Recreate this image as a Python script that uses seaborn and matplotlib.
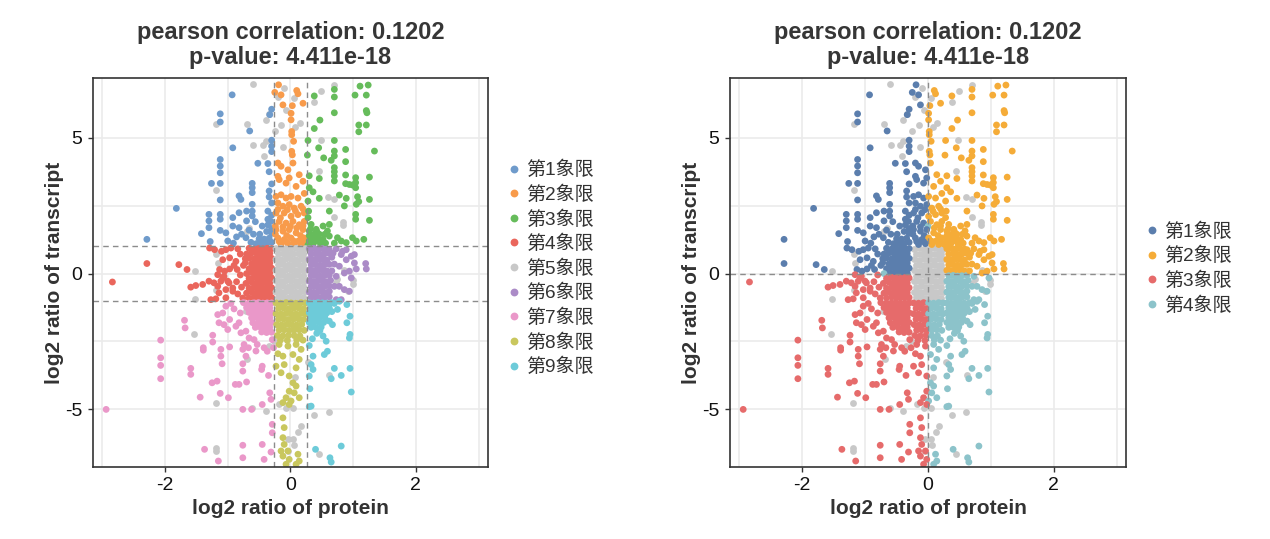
import numpy as np
import pandas as pd
import matplotlib
matplotlib.use("Agg")
import matplotlib.pyplot as plt
import seaborn as sns

# ---------------------------------------
# Data (log2 ratios)
# ---------------------------------------

upper_left = [
    (-0.93, 6.58), (-1.12, 5.88), (-1.12, 5.58), (-0.65, 5.25), (-0.33, 5.85), (-0.30, 6.05),
    (-0.92, 4.63), (-0.30, 4.91), (-0.30, 4.69), (-0.30, 4.49), (-0.52, 4.06), (-0.34, 3.75),
    (-0.36, 4.05), (-1.12, 4.20), (-1.12, 3.96), (-1.12, 3.71), (-1.26, 3.32), (-1.12, 3.32),
    (-0.61, 3.32), (-0.61, 3.16), (-0.61, 2.98), (-0.34, 3.04), (-0.34, 2.82), (-0.30, 3.30),
    (-0.82, 2.86), (-0.79, 2.73), (-1.12, 2.71), (-1.82, 2.40), (-1.30, 2.18), (-1.30, 1.94),
    (-1.30, 1.69), (-1.12, 2.18), (-1.12, 2.00), (-1.12, 1.59), (-0.92, 2.06), (-0.92, 1.75),
    (-0.82, 2.24), (-0.70, 2.30), (-0.70, 1.94), (-0.61, 2.55), (-0.61, 2.30), (-0.61, 2.12),
    (-0.56, 1.91), (-0.36, 2.30), (-0.36, 2.00), (-0.36, 1.79), (-0.30, 2.60), (-0.30, 2.15),
    (-1.42, 1.47), (-1.28, 1.18), (-2.29, 1.26), (-1.00, 1.20), (-0.91, 1.12), (-1.03, 1.50),
    (-0.82, 1.69), (-0.78, 1.45), (-0.71, 1.32), (-0.59, 1.45), (-0.49, 1.45), (-0.42, 1.27),
    (-0.49, 1.12), (-0.55, 1.10), (-0.44, 1.10), (-0.34, 1.30), (-0.30, 1.48), (-0.30, 1.66),
    (-0.30, 1.15), (-0.38, 1.55), (-0.50, 1.28), (-0.63, 1.15), (-0.38, 1.10), (-0.31, 1.92),
    (-0.45, 1.75), (-0.66, 1.60), (-0.86, 1.35),
]

top_middle = [
    (-0.19, 6.95), (-0.25, 6.67), (-0.15, 6.58), (0.10, 6.74), (0.12, 6.62), (-0.12, 6.21),
    (0.03, 6.18), (0.20, 6.27), (0.01, 5.90), (0.01, 5.66), (0.02, 5.23), (0.02, 5.11),
    (0.05, 4.87), (0.02, 4.50), (0.03, 4.37), (-0.20, 4.07), (-0.15, 3.95), (-0.04, 3.82),
    (0.04, 4.07), (0.14, 3.64), (-0.20, 3.58), (-0.18, 3.46), (-0.07, 3.33), (-0.02, 3.52),
    (0.09, 3.21), (0.20, 3.40), (-0.23, 2.84), (-0.15, 2.90), (-0.07, 2.78), (0.01, 2.84),
    (0.12, 2.78), (0.22, 2.95), (-0.20, 2.60), (-0.12, 2.48), (-0.02, 2.54), (0.06, 2.41),
    (0.17, 2.48), (-0.20, 2.36), (-0.05, 2.35), (0.08, 2.30), (0.20, 2.38), (-0.23, 2.23),
    (-0.10, 2.23), (0.01, 2.11), (0.12, 2.17), (0.22, 2.23), (-0.16, 2.05), (-0.18, 1.92),
    (-0.07, 1.86), (0.04, 1.92), (0.14, 1.80), (0.22, 1.92), (-0.24, 1.75), (-0.12, 1.72),
    (0.00, 1.74), (0.10, 1.68), (0.20, 1.76), (-0.23, 1.62), (-0.12, 1.56), (-0.02, 1.62),
    (0.09, 1.50), (0.20, 1.62), (-0.06, 1.40), (0.16, 1.40), (-0.24, 1.45), (-0.20, 1.31),
    (-0.10, 1.25), (0.01, 1.31), (0.12, 1.19), (0.22, 1.31), (-0.18, 1.18), (-0.07, 1.18),
    (0.05, 1.20), (0.17, 1.22), (-0.15, 1.07), (-0.04, 1.10), (0.06, 1.07), (0.17, 1.07),
    (0.24, 1.10),
]

upper_right = [
    (1.11, 6.90), (1.24, 6.94), (1.03, 6.57), (1.21, 6.57), (0.70, 6.78), (0.70, 6.50),
    (0.38, 6.54), (1.21, 6.00), (1.22, 5.92), (0.70, 5.92), (0.47, 5.65), (1.09, 5.47),
    (1.21, 5.47), (1.09, 5.22), (0.38, 5.34), (0.70, 4.90), (0.45, 4.63), (0.88, 4.57),
    (1.34, 4.51), (0.70, 4.51), (0.70, 4.33), (0.53, 4.26), (0.65, 4.17), (0.88, 4.12),
    (0.27, 4.36), (0.70, 3.90), (0.70, 3.75), (0.70, 3.59), (0.70, 3.41), (0.88, 3.63),
    (1.04, 3.53), (1.04, 3.35), (1.04, 3.16), (0.88, 3.31), (0.94, 3.28), (0.99, 3.26),
    (1.26, 3.55), (0.46, 3.50), (0.30, 3.16), (0.36, 3.01), (0.46, 2.77), (0.78, 2.89),
    (0.89, 2.77), (0.86, 2.49), (1.07, 2.83), (1.05, 2.55), (1.09, 2.65), (1.26, 2.73),
    (0.62, 2.30), (1.04, 2.18), (1.04, 2.00), (1.26, 1.96), (0.28, 2.67), (0.29, 2.30),
    (0.28, 2.06), (0.33, 1.81), (0.41, 1.63), (0.52, 1.75), (0.62, 1.81), (0.59, 1.57),
    (0.46, 1.45), (0.36, 1.32), (0.30, 1.20), (0.41, 1.20), (0.52, 1.26), (0.62, 1.38),
    (0.75, 1.32), (0.81, 1.20), (0.99, 1.32), (1.05, 1.20), (1.17, 1.26), (0.89, 1.14),
    (0.30, 1.57), (0.38, 1.45), (0.28, 4.90), (0.30, 3.60), (0.36, 1.08), (0.48, 1.08),
    (0.56, 1.12), (0.70, 1.12), (0.30, 1.40), (0.45, 1.30), (0.55, 1.45), (0.32, 1.65),
    (0.28, 1.05), (0.42, 1.55),
]

middle_left = [
    (-2.84, -0.31), (-2.29, 0.37), (-1.78, 0.33), (-1.65, 0.15), (-1.59, -0.50), (-1.51, -0.44),
    (-1.40, -0.40), (-1.30, -0.28), (-1.22, -0.34), (-1.16, -0.47), (-1.11, -0.28), (-1.06, -0.10),
    (-0.98, -0.34), (-0.92, -0.53), (-1.14, -0.71), (-1.27, -0.96), (-1.19, -0.93), (-1.29, 0.94),
    (-1.21, 0.88), (-1.10, 0.82), (-1.03, 0.88), (-0.95, 0.94), (-0.84, 0.91), (-1.13, 0.15),
    (-1.05, 0.09), (-0.97, 0.17), (-1.16, -0.04), (-1.08, -0.16), (-1.00, -0.28), (-1.03, -0.59),
    (-0.92, -0.65), (-1.03, -0.89), (-1.08, 0.51), (-0.97, 0.58), (-0.87, 0.45), (-0.85, 0.15),
    (-0.80, -0.05), (-0.86, -0.30), (-0.78, -0.50), (-0.84, -0.75), (-0.76, -0.90), (-0.80, 0.72),
    (-0.72, 0.55), (-0.75, 0.30), (-0.90, 0.30),
    (-0.30, 0.92), (-0.37, 0.93), (-0.44, 0.91), (-0.51, 0.92), (-0.58, 0.90), (-0.66, 0.93),
    (-0.33, 0.74), (-0.40, 0.75), (-0.47, 0.73), (-0.54, 0.74), (-0.62, 0.76), (-0.70, 0.72),
    (-0.30, 0.56), (-0.37, 0.55), (-0.44, 0.57), (-0.51, 0.56), (-0.58, 0.54), (-0.66, 0.57),
    (-0.33, 0.38), (-0.40, 0.37), (-0.47, 0.39), (-0.54, 0.38), (-0.62, 0.36), (-0.72, 0.40),
    (-0.30, 0.20), (-0.37, 0.21), (-0.44, 0.19), (-0.51, 0.20), (-0.58, 0.22), (-0.66, 0.18),
    (-0.33, 0.02), (-0.40, 0.03), (-0.47, 0.01), (-0.54, 0.02), (-0.62, 0.04), (-0.70, 0.00),
    (-0.30, -0.16), (-0.37, -0.15), (-0.44, -0.17), (-0.51, -0.16), (-0.58, -0.14), (-0.66, -0.18),
    (-0.33, -0.34), (-0.40, -0.33), (-0.47, -0.35), (-0.54, -0.34), (-0.62, -0.32), (-0.71, -0.36),
    (-0.30, -0.52), (-0.37, -0.51), (-0.44, -0.53), (-0.51, -0.52), (-0.58, -0.50), (-0.66, -0.54),
    (-0.33, -0.70), (-0.40, -0.69), (-0.47, -0.71), (-0.54, -0.70), (-0.62, -0.68), (-0.70, -0.72),
    (-0.30, -0.88), (-0.37, -0.87), (-0.44, -0.89), (-0.51, -0.88), (-0.58, -0.86), (-0.66, -0.90),
]

center = [
    (-0.23, 0.92), (-0.15, 0.93), (-0.07, 0.91), (0.01, 0.92), (0.09, 0.93), (0.17, 0.91), (0.24, 0.92),
    (-0.19, 0.72), (-0.11, 0.73), (-0.03, 0.71), (0.05, 0.72), (0.13, 0.73), (0.21, 0.71),
    (-0.23, 0.52), (-0.15, 0.51), (-0.07, 0.53), (0.01, 0.52), (0.09, 0.51), (0.17, 0.53), (0.24, 0.52),
    (-0.19, 0.32), (-0.11, 0.33), (-0.03, 0.31), (0.05, 0.32), (0.13, 0.33), (0.21, 0.31),
    (-0.23, 0.12), (-0.15, 0.11), (-0.07, 0.13), (0.01, 0.12), (0.09, 0.11), (0.17, 0.13), (0.24, 0.12),
    (-0.19, -0.08), (-0.11, -0.07), (-0.03, -0.09), (0.05, -0.08), (0.13, -0.07), (0.21, -0.09),
    (-0.23, -0.28), (-0.15, -0.29), (-0.07, -0.27), (0.01, -0.28), (0.09, -0.29), (0.17, -0.27), (0.24, -0.28),
    (-0.19, -0.48), (-0.11, -0.47), (-0.03, -0.49), (0.05, -0.48), (0.13, -0.47), (0.21, -0.49),
    (-0.23, -0.68), (-0.15, -0.69), (-0.07, -0.67), (0.01, -0.68), (0.09, -0.69), (0.17, -0.67), (0.24, -0.68),
    (-0.19, -0.88), (-0.11, -0.87), (-0.03, -0.89), (0.05, -0.88), (0.13, -0.87), (0.21, -0.89),
]

middle_right = [
    (0.30, 0.92), (0.37, 0.93), (0.44, 0.91), (0.51, 0.92), (0.58, 0.90),
    (0.33, 0.72), (0.40, 0.73), (0.47, 0.71), (0.54, 0.72), (0.62, 0.74),
    (0.30, 0.52), (0.37, 0.51), (0.44, 0.53), (0.51, 0.52), (0.58, 0.50),
    (0.33, 0.32), (0.40, 0.33), (0.47, 0.31), (0.54, 0.32), (0.62, 0.34),
    (0.30, 0.12), (0.37, 0.11), (0.44, 0.13), (0.51, 0.12), (0.58, 0.10),
    (0.33, -0.08), (0.40, -0.07), (0.47, -0.09), (0.54, -0.08), (0.62, -0.06),
    (0.30, -0.28), (0.37, -0.29), (0.44, -0.27), (0.51, -0.28), (0.58, -0.30),
    (0.33, -0.48), (0.40, -0.47), (0.47, -0.49), (0.54, -0.48), (0.62, -0.46),
    (0.30, -0.68), (0.37, -0.69), (0.44, -0.67), (0.51, -0.68), (0.58, -0.70),
    (0.33, -0.88), (0.40, -0.87), (0.47, -0.89), (0.54, -0.88), (0.62, -0.86),
    (0.62, 0.88), (0.73, 0.91), (0.83, 0.82), (0.89, 0.88), (0.81, 0.70), (0.89, 0.51),
    (0.97, 0.64), (1.02, 0.70), (1.02, 0.39), (1.05, 0.17), (1.20, 0.37), (1.21, 0.17),
    (0.94, 0.09), (0.86, 0.02), (0.97, -0.16), (0.78, 0.27), (0.73, -0.10), (0.94, -0.65),
    (0.86, -0.59), (0.78, -0.47), (0.70, -0.47), (0.62, -0.65), (0.57, -0.83), (0.73, -0.96),
    (0.81, -0.96), (0.66, 0.60), (0.70, 0.35), (0.66, 0.10), (0.64, -0.25), (0.68, 0.75),
]

lower_left = [
    (-1.69, -1.72), (-1.68, -2.00), (-2.07, -2.45), (-2.07, -3.10), (-2.07, -3.38), (-2.07, -3.87),
    (-2.94, -5.00), (-1.59, -3.49), (-1.59, -3.71), (-1.44, -4.55), (-1.39, -2.73), (-1.39, -2.82),
    (-1.24, -2.27), (-1.24, -2.52), (-1.11, -2.79), (-1.11, -3.04), (-1.09, -3.32), (-1.25, -4.02),
    (-1.17, -3.96), (-1.12, -4.41), (-0.99, -4.57), (-0.97, -2.70), (-0.88, -4.08), (-0.82, -4.08),
    (-0.70, -3.99), (-0.76, -5.00), (-0.62, -5.00), (-0.45, -4.82), (-0.76, -3.32), (-0.76, -3.59),
    (-0.71, -3.04), (-0.76, -2.79), (-0.74, -2.61), (-0.67, -2.73), (-0.55, -2.85), (-0.45, -3.41),
    (-0.46, -3.53), (-0.35, -3.75), (-0.33, -4.39), (-0.31, -4.63), (-0.29, -5.55), (-0.29, -5.86),
    (-0.76, -6.32), (-0.45, -6.29), (-0.31, -6.57), (-1.37, -6.47), (-1.15, -6.90), (-0.76, -6.78),
    (-0.42, -6.84), (-1.03, -1.20), (-1.08, -1.45), (-1.16, -1.51), (-0.97, -1.69), (-1.14, -1.81),
    (-1.06, -1.88), (-1.00, -2.06), (-0.87, -1.94), (-0.82, -1.81), (-0.79, -2.18), (-0.71, -2.12),
    (-0.66, -2.37), (-0.58, -2.43), (-0.53, -2.61), (-0.42, -2.73), (-0.37, -2.86), (-0.29, -2.43),
    (-0.27, -2.73), (-0.90, -1.30), (-0.80, -1.45), (-0.95, -1.10),
    (-0.30, -1.08), (-0.37, -1.08), (-0.44, -1.09), (-0.51, -1.07), (-0.58, -1.08), (-0.66, -1.09), (-0.75, -1.07),
    (-0.33, -1.26), (-0.40, -1.27), (-0.47, -1.25), (-0.54, -1.26), (-0.62, -1.27), (-0.70, -1.25),
    (-0.30, -1.44), (-0.37, -1.45), (-0.44, -1.43), (-0.51, -1.44), (-0.58, -1.45), (-0.66, -1.43),
    (-0.33, -1.62), (-0.40, -1.63), (-0.47, -1.61), (-0.54, -1.62), (-0.62, -1.63),
    (-0.30, -1.80), (-0.37, -1.81), (-0.44, -1.79), (-0.51, -1.80), (-0.60, -1.81),
    (-0.33, -1.98), (-0.40, -1.99), (-0.48, -1.97), (-0.56, -1.98),
    (-0.30, -2.16), (-0.38, -2.17), (-0.46, -2.15),
]

lower_middle = [
    (-0.23, -1.08), (-0.15, -1.09), (-0.07, -1.07), (0.01, -1.08), (0.09, -1.09), (0.17, -1.07), (0.24, -1.08),
    (-0.19, -1.28), (-0.11, -1.27), (-0.03, -1.29), (0.05, -1.28), (0.13, -1.27), (0.21, -1.29),
    (-0.23, -1.48), (-0.15, -1.49), (-0.07, -1.47), (0.01, -1.48), (0.09, -1.49), (0.17, -1.47), (0.24, -1.48),
    (-0.19, -1.68), (-0.11, -1.67), (-0.03, -1.69), (0.05, -1.68), (0.13, -1.67), (0.21, -1.69),
    (-0.22, -1.88), (-0.14, -1.89), (-0.06, -1.87), (0.02, -1.88), (0.10, -1.89), (0.18, -1.87),
    (-0.18, -2.08), (-0.10, -2.07), (-0.02, -2.09), (0.06, -2.08), (0.14, -2.07), (0.22, -2.09),
    (-0.21, -2.28), (-0.12, -2.29), (-0.03, -2.27), (0.06, -2.28), (0.15, -2.29),
    (-0.16, -2.45), (-0.05, -2.46), (0.10, -2.44),
    (-0.18, -2.61), (-0.04, -2.67), (0.09, -2.61), (0.17, -2.79), (-0.12, -3.04), (0.04, -2.98),
    (0.14, -3.16), (-0.23, -3.41), (-0.10, -3.35), (0.09, -3.47), (-0.15, -3.65), (-0.02, -3.77),
    (0.04, -4.02), (0.09, -4.14), (-0.02, -4.33), (0.06, -4.39), (-0.07, -4.57), (0.01, -4.69),
    (0.14, -4.57), (-0.12, -4.75), (-0.02, -4.82), (-0.12, -5.31), (-0.10, -5.67), (-0.12, -6.04),
    (-0.10, -6.29), (-0.15, -6.53), (-0.04, -6.53), (-0.12, -6.72), (0.12, -6.65), (-0.02, -6.84),
    (0.14, -6.90), (-0.07, -7.02), (0.09, -7.02), (-0.20, -2.95), (0.20, -2.45),
]

lower_right = [
    (0.30, -1.08), (0.37, -1.09), (0.44, -1.07), (0.51, -1.08), (0.58, -1.09), (0.66, -1.07),
    (0.33, -1.26), (0.40, -1.27), (0.47, -1.25), (0.55, -1.26), (0.62, -1.27),
    (0.30, -1.44), (0.37, -1.45), (0.44, -1.43), (0.51, -1.44), (0.58, -1.45),
    (0.33, -1.62), (0.40, -1.63), (0.47, -1.61), (0.55, -1.62),
    (0.30, -1.80), (0.37, -1.81), (0.45, -1.79), (0.53, -1.80),
    (0.33, -1.98), (0.41, -1.99), (0.49, -1.97),
    (0.78, -1.02), (0.90, -1.14), (0.75, -1.32), (0.90, -1.81), (0.95, -1.57), (0.95, -2.24),
    (0.94, -2.37), (0.67, -1.88), (0.62, -1.75), (0.52, -2.30), (0.57, -2.49), (0.59, -2.86),
    (0.54, -2.98), (0.36, -3.04), (0.33, -3.35), (0.36, -3.53), (0.30, -3.77), (0.70, -3.49),
    (0.81, -3.75), (0.65, -3.87), (0.95, -3.49), (0.31, -4.24), (0.97, -4.36), (0.30, -4.90),
    (0.33, -4.88), (0.40, -6.47), (0.81, -6.35), (0.63, -6.78), (0.65, -6.94), (0.42, -2.20),
    (0.35, -2.40), (0.30, -2.65), (0.47, -2.10), (0.66, -1.40), (0.70, -1.10),
]

# not significant (always grey)
not_significant = [
    (-0.60, 6.99), (-1.18, 5.49), (-0.70, 5.49), (-0.39, 5.67), (-0.34, 5.88), (-0.59, 4.75),
    (-0.44, 4.74), (-0.39, 4.88), (-0.42, 4.33), (-1.18, 3.08), (-0.66, 1.69), (-0.70, 1.55),
    (-0.20, 6.50), (-0.10, 6.85), (0.05, 6.45), (-0.07, 6.02), (0.15, 5.55), (-0.15, 5.48),
    (-0.25, 5.25), (-0.12, 4.65), (0.08, 5.40), (0.70, 6.94), (0.49, 6.72), (0.48, 4.90),
    (0.45, 3.77), (0.60, 2.83), (0.70, 2.73), (0.84, 1.91), (0.84, 1.79), (0.70, 2.08),
    (0.38, 6.30), (-1.53, 0.09), (-1.18, 0.72), (-1.16, 0.39), (-1.53, -0.93), (-1.18, -0.61),
    (0.99, -0.22), (0.99, -0.40), (0.91, -0.65), (0.72, -0.34), (0.75, -0.20), (0.86, 0.15),
    (-0.71, -1.38), (-1.54, -2.21), (-0.69, -3.16), (-1.19, -4.75), (-0.61, -4.94), (-0.39, -5.06),
    (-1.19, -6.41), (-1.19, -6.53), (-0.18, -4.80), (-0.07, -4.95), (0.62, -3.75), (0.61, -5.10),
    (0.38, -5.22), (0.45, -6.65), (-0.04, -6.10), (0.04, -4.94), (0.17, -5.61), (0.04, -6.10),
    (-0.04, -6.53), (-0.27, -2.50), (-0.35, -2.65), (0.28, -3.25), (0.08, -3.80), (0.12, -5.85),
    (0.06, -6.30),
]

title_text = "pearson correlation: 0.1202\np-value: 4.411e-18"

nine_labels = [f"第{i}象限" for i in range(1, 10)]
four_labels = [f"第{i}象限" for i in range(1, 5)]

nine_colors = ["#6F9BCB", "#F89B4B", "#66BC5B", "#EA665C", "#C8C8C8",
               "#AB8BC7", "#EA98C9", "#C9C75E", "#6DCBD9"]
four_colors = ["#5B7EAD", "#F5AC38", "#E66B6B", "#8CC3CA"]
grey = "#C8C8C8"

fc_protein = 0.263   # log2(1.2)
fc_transcript = 1.0

# ---------------------------------------
# Frames
# ---------------------------------------

sig = pd.DataFrame(
    upper_left + top_middle + upper_right + middle_left + center
    + middle_right + lower_left + lower_middle + lower_right,
    columns=["protein", "transcript"]
)
ns = pd.DataFrame(not_significant, columns=["protein", "transcript"])

col = np.select([sig.protein < -fc_protein, sig.protein > fc_protein], [0, 2], 1)
row = np.select([sig.transcript > fc_transcript, sig.transcript < -fc_transcript], [0, 2], 1)
sig["nine"] = [nine_labels[r * 3 + c] for r, c in zip(row, col)]

in_box = (sig.protein.abs() <= fc_protein) & (sig.transcript.abs() <= fc_transcript)
quad = np.select(
    [(sig.protein < 0) & (sig.transcript > 0), (sig.protein > 0) & (sig.transcript > 0),
     (sig.protein < 0) & (sig.transcript < 0)],
    four_labels[:3], four_labels[3]
)
sig["four"] = np.where(in_box, "", quad)

# ---------------------------------------
# Plot
# ---------------------------------------

sns.set_theme(style="white")
plt.rcParams["font.family"] = ["Liberation Sans", "Noto Sans CJK SC", "DejaVu Sans"]
plt.rcParams["axes.unicode_minus"] = False

fig = plt.figure(figsize=(12.7, 5.39), dpi=100)
ax1 = fig.add_axes([0.0732, 0.1336, 0.311, 0.7217])
ax2 = fig.add_axes([0.5748, 0.1336, 0.3118, 0.7217])

size = 24


def style_axes(ax):
    ax.set_xlim(-3.15, 3.15)
    ax.set_ylim(-7.12, 7.2)
    ax.set_xticks([-2, 0, 2])
    ax.set_xticks([-3, -1, 1, 3], minor=True)
    ax.set_yticks([-5, 0, 5])
    ax.set_yticks([-2.5, 2.5], minor=True)
    ax.grid(which="both", color="#EBEBEB", linewidth=1.2)
    ax.set_axisbelow(True)
    for s in ax.spines.values():
        s.set_color("#333333")
        s.set_linewidth(1.2)
    ax.tick_params(which="major", length=3.5, width=1, color="#333333",
                   labelsize=14, labelcolor="#111111", bottom=True, left=True, pad=4)
    ax.tick_params(which="minor", length=0)
    ax.set_xlabel("log2 ratio of protein", fontsize=15, fontweight="bold", color="#333333", labelpad=3)
    ax.set_ylabel("log2 ratio of transcript", fontsize=15, fontweight="bold", color="#333333", labelpad=1)
    ax.set_title(title_text, fontsize=17, fontweight="bold", color="#363636",
                 linespacing=1.12, pad=10)


def add_legend(ax):
    handles, labels = ax.get_legend_handles_labels()
    ax.legend(handles, labels, loc="center left", bbox_to_anchor=(1.003, 0.51),
              frameon=False, fontsize=13.7, handlelength=0.8, handletextpad=0.25,
              labelspacing=0.33, markerscale=1.15, labelcolor="#333333")


# left: nine groups
sns.scatterplot(data=ns, x="protein", y="transcript", color=grey, s=size,
                linewidth=0, ax=ax1, legend=False)
sns.scatterplot(data=sig, x="protein", y="transcript", hue="nine",
                hue_order=nine_labels, palette=dict(zip(nine_labels, nine_colors)),
                s=size, linewidth=0, ax=ax1)
for v in (-fc_protein, fc_protein):
    ax1.axvline(v, color="#8C8C8C", linestyle=(0, (4, 3)), linewidth=1)
for h in (-fc_transcript, fc_transcript):
    ax1.axhline(h, color="#8C8C8C", linestyle=(0, (4, 3)), linewidth=1)
style_axes(ax1)
add_legend(ax1)

# right: four quadrants
grey_right = pd.concat([ns, sig.loc[in_box, ["protein", "transcript"]]])
sns.scatterplot(data=grey_right, x="protein", y="transcript", color=grey, s=size,
                linewidth=0, ax=ax2, legend=False)
sns.scatterplot(data=sig[~in_box], x="protein", y="transcript", hue="four",
                hue_order=four_labels, palette=dict(zip(four_labels, four_colors)),
                s=size, linewidth=0, ax=ax2)
ax2.axvline(0, color="#8C8C8C", linestyle=(0, (4, 3)), linewidth=1)
ax2.axhline(0, color="#8C8C8C", linestyle=(0, (4, 3)), linewidth=1)
style_axes(ax2)
add_legend(ax2)

fig.savefig("out.png", dpi=100)
plt.close(fig)
print("Saved -> out.png")
